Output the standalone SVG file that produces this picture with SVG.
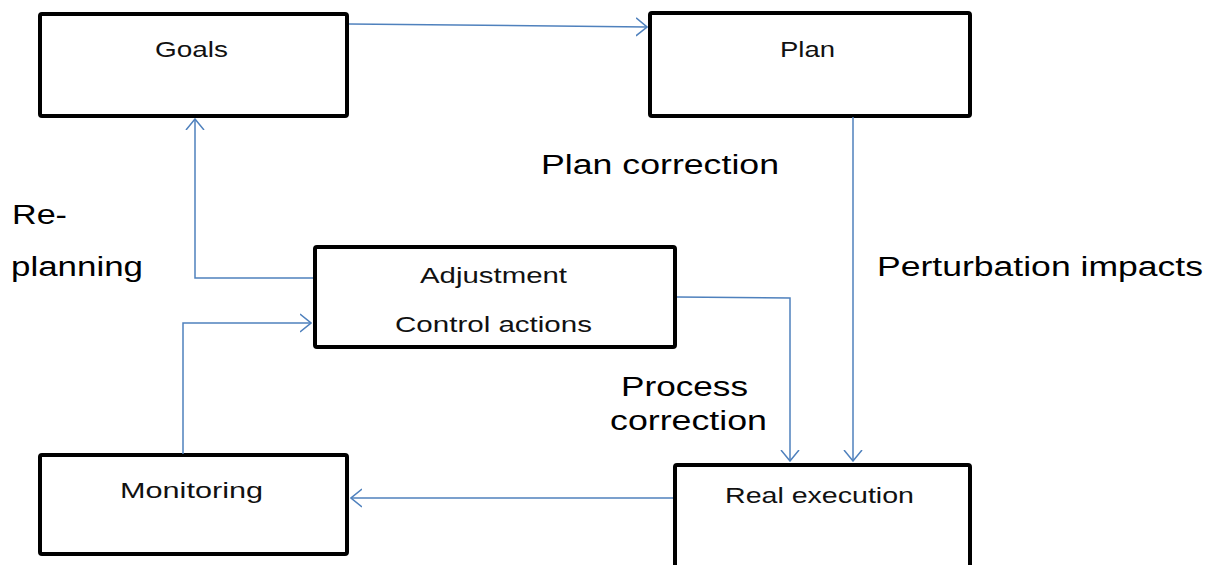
<svg xmlns="http://www.w3.org/2000/svg" width="1215" height="565" viewBox="0 0 1215 565">
<style>
.box{fill:#fff;stroke:#000;stroke-width:4}
.bt{font-family:"Liberation Sans",Arial,sans-serif;font-size:22px;fill:#111;text-anchor:start}
.lb{font-family:"Liberation Sans",Arial,sans-serif;font-size:27px;fill:#000}
.c{fill:none;stroke:#4f81bd;stroke-width:1.5}
</style>
<defs>
<marker id="ah" viewBox="0 0 12 20" refX="11" refY="10" markerWidth="12" markerHeight="20" markerUnits="userSpaceOnUse" orient="auto">
<path d="M0,1 L11,10 L0,19" fill="none" stroke="#4f81bd" stroke-width="1.5"/>
</marker>
</defs>
<rect width="1215" height="565" fill="#fff"/>
<g id="goals"><rect class="box" x="40" y="14" width="307" height="102" rx="2"/><text class="bt" x="155" y="57" textLength="73" lengthAdjust="spacingAndGlyphs">Goals</text></g>
<g id="plan"><rect class="box" x="650" y="13" width="320" height="103" rx="2"/><text class="bt" x="780" y="57" textLength="55" lengthAdjust="spacingAndGlyphs">Plan</text></g>
<g id="adjustment"><rect class="box" x="315" y="247" width="360" height="100" rx="2"/><text class="bt" x="420" y="283" textLength="147" lengthAdjust="spacingAndGlyphs">Adjustment</text><text class="bt" x="395" y="332" textLength="197" lengthAdjust="spacingAndGlyphs">Control actions</text></g>
<g id="monitoring"><rect class="box" x="40" y="455" width="307" height="99" rx="2"/><text class="bt" x="120" y="498" textLength="143" lengthAdjust="spacingAndGlyphs">Monitoring</text></g>
<g id="real-execution"><rect class="box" x="675" y="465" width="295" height="110" rx="2"/><text class="bt" x="725" y="503" textLength="189" lengthAdjust="spacingAndGlyphs">Real execution</text></g>
<g id="connectors">
<path class="c" d="M349,24 L647,27" marker-end="url(#ah)"/>
<path class="c" d="M853,117 L853,461" marker-end="url(#ah)"/>
<path class="c" d="M677,297 L790,298 L790,461" marker-end="url(#ah)"/>
<path class="c" d="M673,498 L351,498" marker-end="url(#ah)"/>
<path class="c" d="M183,454 L183,323 L311,323" marker-end="url(#ah)"/>
<path class="c" d="M313,278 L195,278 L195,119" marker-end="url(#ah)"/>
</g>
<g id="labels">
<text class="lb" x="541" y="174" textLength="238" lengthAdjust="spacingAndGlyphs">Plan correction</text>
<text class="lb" x="12" y="224" textLength="55" lengthAdjust="spacingAndGlyphs">Re-</text>
<text class="lb" x="11" y="276" textLength="132" lengthAdjust="spacingAndGlyphs">planning</text>
<text class="lb" x="877" y="276" textLength="326" lengthAdjust="spacingAndGlyphs">Perturbation impacts</text>
<text class="lb" x="621" y="396" textLength="127" lengthAdjust="spacingAndGlyphs">Process</text>
<text class="lb" x="610" y="430" textLength="157" lengthAdjust="spacingAndGlyphs">correction</text>
</g>
</svg>
